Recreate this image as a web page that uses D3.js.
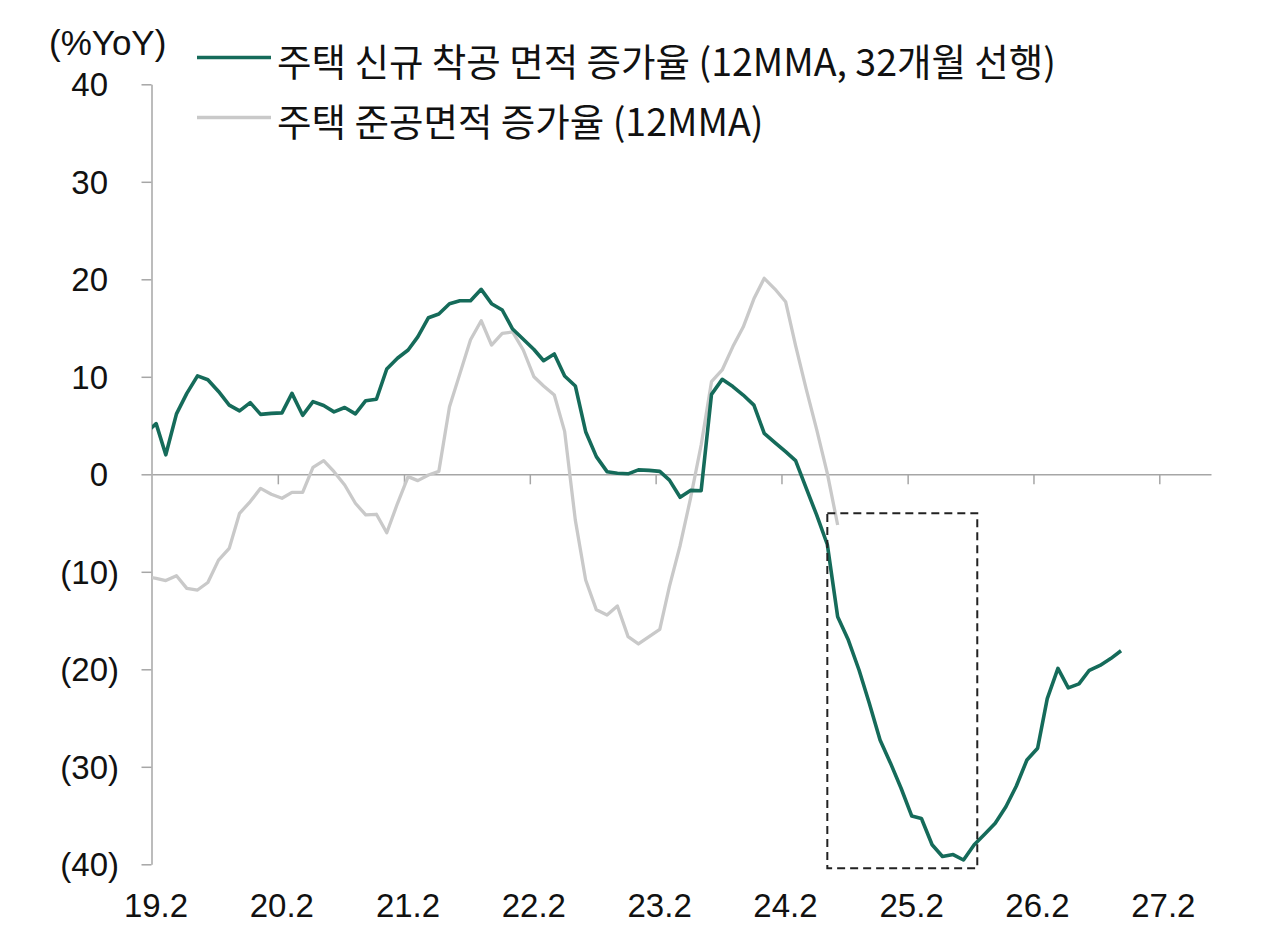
<!DOCTYPE html>
<html>
<head>
<meta charset="utf-8">
<script src="https://cdn.jsdelivr.net/npm/d3@7"></script>
<style>
  html, body { margin: 0; padding: 0; background: #fff; }
  svg { display: block; }
  text { font-family: "Noto Sans CJK KR", "Noto Sans", sans-serif; fill: #111; }
  text.num { font-family: "Liberation Sans", Arial, sans-serif; }
</style>
</head>
<body>
<svg id="chart" width="1280" height="943"></svg>
<script>
// ---- Data (monthly, first value = 2019.1) ----
const startYear = 2019, startMonth = 0; // January 2019
const startsSeriesName = "주택 신규 착공 면적 증가율 (12MMA, 32개월 선행)";
const startsValues = [
  4.2, 5.2, 2.0, 6.2, 8.3, 10.1, 9.7, 8.5, 7.1, 6.5, 7.35, 6.15,
  6.25, 6.3, 8.3, 6.05, 7.45, 7.05, 6.4, 6.85, 6.2, 7.55, 7.7, 10.8,
  11.9, 12.75, 14.1, 16.06, 16.44, 17.5, 17.8, 17.8, 18.97, 17.5, 16.85, 14.9,
  13.85, 12.8, 11.65, 12.34, 10.08, 9.06, 4.37, 1.81, 0.27, 0.1, 0.05, 0.45,
  0.4, 0.3, -0.6, -2.36, -1.65, -1.68, 8.2, 9.74, 9.0, 8.13, 7.1, 4.2,
  3.24, 2.32, 1.4, -1.44, -4.17, -7.2, -14.6, -17.0, -20.07, -23.5, -27.25, -29.6,
  -32.2, -35.05, -35.3, -38.0, -39.2, -39.0, -39.56, -38.0, -36.9, -35.8, -34.1, -32.0,
  -29.3, -28.1, -23.0, -19.9, -21.9, -21.5, -20.1, -19.6, -18.9, -18.1
];
const completionsSeriesName = "주택 준공면적 증가율 (12MMA)";
const completionsValues = [
  -10.5, -10.67, -10.9, -10.4, -11.7, -11.87, -11.1, -8.8, -7.6, -4.0, -2.8, -1.44,
  -2.05, -2.46, -1.85, -1.85, 0.72, 1.4, 0.27, -1.1, -2.97, -4.17, -4.1, -6.0,
  -3.0, -0.24, -0.65, -0.07, 0.3, 6.93, 10.3, 13.8, 15.75, 13.26, 14.46, 14.6,
  12.75, 10.0, 9.06, 8.13, 4.4, -4.7, -10.84, -13.9, -14.43, -13.5, -16.65, -17.4,
  -16.65, -15.9, -11.5, -7.3, -2.5, 3.0, 9.5, 10.7, 13.1, 15.1, 18.0, 20.1,
  19.0, 17.7, 13.2, 8.7, 4.6, 0.1, -5.2
];
const xTickLabels = ["19.2", "20.2", "21.2", "22.2", "23.2", "24.2", "25.2", "26.2", "27.2"];
const yTickValues = [40, 30, 20, 10, 0, -10, -20, -30, -40];
const yUnitLabel = "(%YoY)";
// highlighted period box (dates and values)
const boxStart = new Date(2024, 5, 13), boxEnd = new Date(2025, 7, 22);
const boxTop = -4.0, boxBottom = -40.4;

// ---- Layout ----
const GREEN = "#156b5a", GRAY = "#c9c9c9", AXIS = "#a6a6a6";
const svg = d3.select("#chart");
const x = d3.scaleTime()
  .domain([new Date(2019, 1, 1), new Date(2027, 6, 1)])
  .range([152, 1211]);
const y = d3.scaleLinear().domain([-40, 40]).range([864.3, 84.3]);

// monthly points placed mid-month
const dateOf = i => new Date(startYear, startMonth + i, 13);
const startsData = startsValues.map((v, i) => ({ d: dateOf(i), v }));
const complData = completionsValues.map((v, i) => ({ d: dateOf(i), v }));

svg.append("clipPath").attr("id", "plotClip")
  .append("rect").attr("x", 152).attr("y", 0).attr("width", 1211 - 152).attr("height", 943);

// Y axis
const yAxis = svg.append("g").attr("transform", "translate(151.5,0)")
  .call(d3.axisLeft(y).tickValues(yTickValues).tickSize(10).tickSizeOuter(0)
    .tickFormat(v => v < 0 ? `(${-v})` : `${v}`));
yAxis.attr("font-family", null).attr("font-size", null);
yAxis.select(".domain").attr("stroke", AXIS).attr("stroke-width", 1.5);
yAxis.selectAll(".tick line").attr("stroke", AXIS).attr("stroke-width", 1.5);
yAxis.selectAll(".tick text")
  .attr("class", "num")
  .attr("font-size", 33)
  .attr("fill", "#111")
  .attr("text-anchor", "end")
  .attr("x", v => v < 0 ? -32.5 : -43.5)
  .attr("dy", "0.35em");

// X axis (ticks on zero line)
const xTickDates = xTickLabels.map(s => new Date(2000 + parseInt(s), 1, 1));
const xAxis = svg.append("g").attr("transform", `translate(0,${y(0)})`)
  .call(d3.axisBottom(x).tickValues(xTickDates).tickSize(10).tickSizeOuter(0).tickFormat(""));
xAxis.select(".domain").attr("stroke", AXIS).attr("stroke-width", 1.5);
xAxis.selectAll(".tick line").attr("stroke", AXIS).attr("stroke-width", 1.5);
xAxis.selectAll(".tick").filter((d, i) => i === 0).select("line").remove();

// X labels at bottom
svg.append("g").selectAll("text").data(xTickDates).join("text")
  .attr("class", "num")
  .attr("x", (d) => x(d) + 4)
  .attr("y", 917)
  .attr("text-anchor", "middle")
  .attr("font-size", 33)
  .text((d, i) => xTickLabels[i]);

// Lines
const line = d3.line().x(p => x(p.d)).y(p => y(p.v));
const plot = svg.append("g").attr("clip-path", "url(#plotClip)");
plot.append("path").datum(complData)
  .attr("fill", "none").attr("stroke", GRAY).attr("stroke-width", 3.3)
  .attr("stroke-linejoin", "round").attr("d", line);
plot.append("path").datum(startsData)
  .attr("fill", "none").attr("stroke", GREEN).attr("stroke-width", 3.6)
  .attr("stroke-linejoin", "round").attr("d", line);

// Dashed highlight box
svg.append("rect")
  .attr("x", x(boxStart)).attr("y", y(boxTop))
  .attr("width", x(boxEnd) - x(boxStart)).attr("height", y(boxBottom) - y(boxTop))
  .attr("fill", "none").attr("stroke", "#222").attr("stroke-width", 2)
  .attr("stroke-dasharray", "8,5");

// Unit label
svg.append("text").attr("class", "num").attr("x", 49).attr("y", 55)
  .attr("font-size", 35).text(yUnitLabel);

// Legend
const legend = [
  { name: startsSeriesName, color: GREEN, w: 3.6, y: 57.5 },
  { name: completionsSeriesName, color: GRAY, w: 3.3, y: 117.5 }
];
const lg = svg.append("g");
legend.forEach(l => {
  lg.append("line").attr("x1", 197).attr("x2", 271).attr("y1", l.y).attr("y2", l.y)
    .attr("stroke", l.color).attr("stroke-width", l.w);
  lg.append("text").attr("x", 277).attr("y", l.y + 1.5).attr("dominant-baseline", "central")
    .attr("font-size", 37.5).text(l.name);
});
</script>
</body>
</html>
